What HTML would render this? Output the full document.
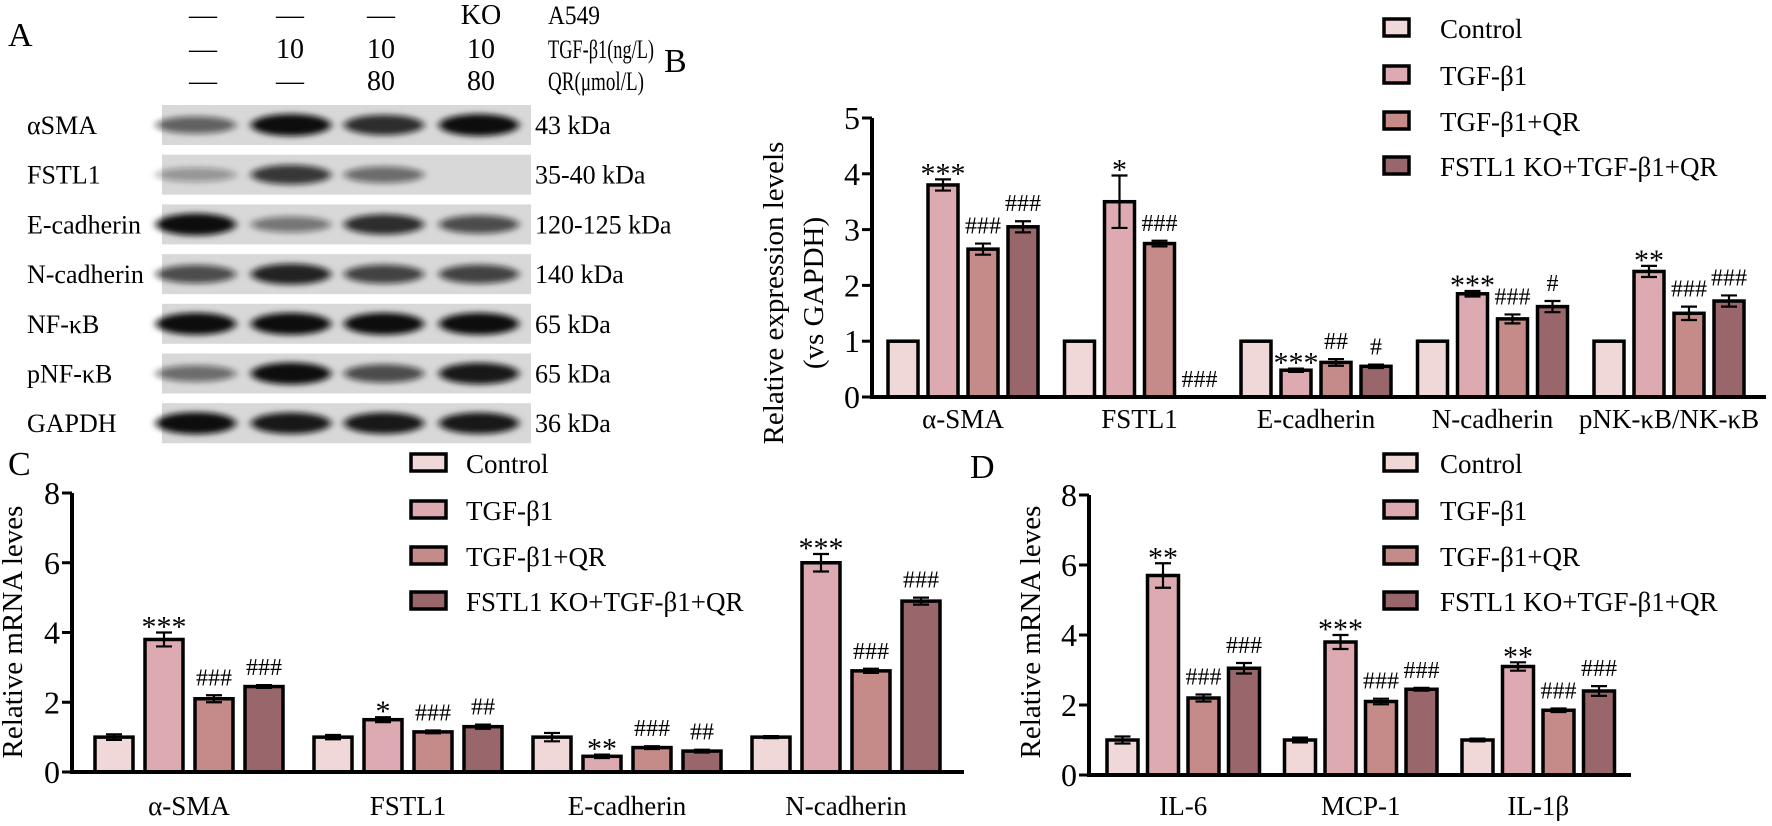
<!DOCTYPE html>
<html><head><meta charset="utf-8"><style>
html,body{margin:0;padding:0;background:#fff;}
svg{display:block;font-family:"Liberation Serif",serif;}
</style></head><body>
<svg id="fig" width="1772" height="826" viewBox="0 0 1772 826" xmlns="http://www.w3.org/2000/svg">
<defs><filter id="blur" x="-20%" y="-50%" width="140%" height="200%"><feGaussianBlur stdDeviation="4 3"/></filter></defs>
<g id="panelA"></g>
<g id="panelB"></g>
<g id="panelC"></g>
<g id="panelD"></g>
</svg>
<script>
// ---- data ----
const seriesNames = ["Control","TGF-β1","TGF-β1+QR","FSTL1 KO+TGF-β1+QR"];
const seriesColors = ["#f0d8d9","#ddaab2","#c58b88","#99666c"];

const bCategories = ["α-SMA","FSTL1","E-cadherin","N-cadherin","pNK-κB/NK-κB"];
const bControl = [1,1,1,1,1];
const bTGF = [3.8,3.5,0.48,1.85,2.25];
const bQR = [2.65,2.75,0.62,1.4,1.5];
const bKO = [3.05,0,0.55,1.62,1.72];
const bControlErr = [0,0,0,0,0];
const bTGFErr = [0.1,0.47,0.03,0.05,0.1];
const bQRErr = [0.1,0.05,0.06,0.08,0.12];
const bKOErr = [0.1,0,0.03,0.1,0.1];
const bAnnTGF = ["***","*","***","***","**"];
const bAnnQR = ["###","###","##","###","###"];
const bAnnKO = ["###","###","#","#","###"];
const bTicks = [0,1,2,3,4,5];

const cCategories = ["α-SMA","FSTL1","E-cadherin","N-cadherin"];
const cControl = [1,1,1,1];
const cTGF = [3.8,1.5,0.45,6.0];
const cQR = [2.1,1.15,0.7,2.9];
const cKO = [2.45,1.3,0.6,4.9];
const cControlErr = [0.08,0.06,0.12,0.03];
const cTGFErr = [0.2,0.07,0.05,0.25];
const cQRErr = [0.1,0.04,0.04,0.06];
const cKOErr = [0.04,0.06,0.04,0.1];
const cAnnTGF = ["***","*","**","***"];
const cAnnQR = ["###","###","###","###"];
const cAnnKO = ["###","##","##","###"];
const cTicks = [0,2,4,6,8];

const dCategories = ["IL-6","MCP-1","IL-1β"];
const dControl = [1,1,1];
const dTGF = [5.7,3.8,3.1];
const dQR = [2.2,2.1,1.85];
const dKO = [3.05,2.45,2.4];
const dControlErr = [0.1,0.07,0.04];
const dTGFErr = [0.35,0.2,0.12];
const dQRErr = [0.1,0.08,0.05];
const dKOErr = [0.15,0.04,0.14];
const dAnnTGF = ["**","***","**"];
const dAnnQR = ["###","###","###"];
const dAnnKO = ["###","###","###"];
const dTicks = [0,2,4,6,8];

const blotRows = ["αSMA","FSTL1","E-cadherin","N-cadherin","NF-κB","pNF-κB","GAPDH"];
const blotKDa = ["43 kDa","35-40 kDa","120-125 kDa","140 kDa","65 kDa","65 kDa","36 kDa"];
const blotIntensity = [
 [0.6,1,0.85,1],[0.35,0.8,0.55,0],[1,0.5,0.85,0.7],[0.7,0.9,0.75,0.75],
 [1,1,1,1],[0.55,1,0.7,0.95],[1,0.95,0.95,0.95]];
const headerRow1 = ["—","—","—","KO","A549"];
const headerRow2 = ["—","10","10","10","TGF-β1(ng/L)"];
const headerRow3 = ["—","—","80","80","QR(μmol/L)"];

const NS="http://www.w3.org/2000/svg";
function mk(parent,tag,attrs,text){const e=document.createElementNS(NS,tag);for(const k in attrs)e.setAttribute(k,attrs[k]);if(text!==undefined)e.textContent=text;parent.appendChild(e);return e;}

// ---- Panel A ----
(function(){
 const g=document.getElementById('panelA');
 let t=mk(g,'text',{x:8,y:46,'font-size':34},'A');
 
 const cols=[203,290,381,481];
 const rightW=[52,106,96];
 [[headerRow1,24],[headerRow2,58],[headerRow3,90]].forEach((r,ri)=>{
  r[0].forEach((s,i)=>{
   const attrs={x:i<4?cols[i]:548,y:r[1],'font-size':i<4?28:26,'text-anchor':i<4?'middle':'start'};
   if(i===4){attrs.textLength=rightW[ri];attrs.lengthAdjust='spacingAndGlyphs';}
   const e=mk(g,'text',attrs,s);
   
  });
 });
 const lanes=[196,291,384,479];
 blotRows.forEach((name,ri)=>{
  const y0=105+ri*49.7, h=40;
  const bg=mk(g,'rect',{x:162,y:y0,width:369,height:h,fill:'#d8d8d8'});
  
  blotIntensity[ri].forEach((v,li)=>{
   if(v<=0)return;
   const b=mk(g,'ellipse',{cx:lanes[li],cy:y0+h/2,rx:40,ry:5+v*6,fill:'#111','fill-opacity':v,filter:'url(#blur)'});
   
  });
  const l=mk(g,'text',{x:27,y:y0+h/2+9,'font-size':26},name);
  
  const k=mk(g,'text',{x:535,y:y0+h/2+9,'font-size':26},blotKDa[ri]);
  
 });
})();

// ---- generic bar chart ----
function chart(opts){
 const g=document.getElementById(opts.id);
 const yS=v=>opts.y0-(v/opts.ymax)*(opts.y0-opts.ytop);
 let pl=mk(g,'text',{x:opts.label[0],y:opts.label[1],'font-size':34},opts.letter);
 
 const series=opts.series, errs=opts.errs, anns=opts.anns;
 opts.cats.forEach((c,ci)=>{
  const gx=opts.gx0+ci*opts.gpitch;
  series.forEach((arr,si)=>{
   const v=arr[ci], x=gx+si*opts.bpitch, y=yS(v);
   const r=mk(g,'rect',{x:x,y:y,width:opts.bw,height:Math.max(0,opts.y0-y),fill:seriesColors[si],stroke:'#000','stroke-width':3.5});
   
   const e=errs[si][ci];
   let top=y;
   if(e>0){
    const cx=x+opts.bw/2, yt=yS(v+e), yb=yS(v-e);
    const el=mk(g,'path',{d:`M${cx} ${yb}V${yt}M${cx-8} ${yt}H${cx+8}M${cx-8} ${yb}H${cx+8}`,stroke:'#000','stroke-width':2.2,fill:'none'});
    
    top=yt;
   }
   if(si>0){
    const a=anns[si-1][ci];
    const isStar=a.indexOf('*')>=0;
    const at=mk(g,'text',{x:x+opts.bw/2,y:isStar?top+4:top-10,'font-size':isStar?30:24,'text-anchor':'middle'},a);
    
   }
  });
  const cl=mk(g,'text',{x:gx+(series.length*opts.bpitch-(opts.bpitch-opts.bw))/2,y:opts.catY,'font-size':27,'text-anchor':'middle'},c);
  
 });
 const ax=mk(g,'path',{d:`M${opts.ax} ${opts.ytop}V${opts.y0}H${opts.xend}`,stroke:'#000','stroke-width':4,fill:'none'});
 
 opts.ticks.forEach(tv=>{
  const y=yS(tv);
  const tk=mk(g,'line',{x1:opts.ax-10,x2:opts.ax,y1:y,y2:y,stroke:'#000','stroke-width':3});
  
  const tl=mk(g,'text',{x:opts.ax-12,y:y+11,'font-size':32,'text-anchor':'end'},String(tv));
  
 });
 opts.ylabel.forEach((s,i)=>{
  const x=opts.ylx+i*40;
  const yl=mk(g,'text',{x:x,y:opts.yly,'font-size':29,'text-anchor':'middle',transform:`rotate(-90 ${x} ${opts.yly})`},s);
  
 });
 seriesNames.forEach((n,i)=>{
  const y=opts.legY[i];
  const lb=mk(g,'rect',{x:opts.legX,y:y-9,width:opts.legW,height:17,fill:seriesColors[i],stroke:'#000','stroke-width':3.5});
  
  const lt=mk(g,'text',{x:opts.legTX,y:y+10,'font-size':27},n);
  
 });
}

chart({id:'panelB',letter:'B',label:[664,72],cats:bCategories,series:[bControl,bTGF,bQR,bKO],
 errs:[bControlErr,bTGFErr,bQRErr,bKOErr],anns:[bAnnTGF,bAnnQR,bAnnKO],
 ax:872,y0:397,ytop:118,ymax:5,xend:1766,gx0:888,gpitch:176.5,bpitch:40,bw:30,catY:428,ticks:bTicks,
 ylabel:["Relative expression levels","(vs GAPDH)"],ylx:783,yly:293,
 legX:1384,legW:25,legTX:1440,legY:[28,75,121,166]});
chart({id:'panelC',letter:'C',label:[8,475],cats:cCategories,series:[cControl,cTGF,cQR,cKO],
 errs:[cControlErr,cTGFErr,cQRErr,cKOErr],anns:[cAnnTGF,cAnnQR,cAnnKO],
 ax:72,y0:772,ytop:493,ymax:8,xend:964,gx0:95,gpitch:219,bpitch:50,bw:38,catY:815,ticks:cTicks,
 ylabel:["Relative mRNA leves"],ylx:22,yly:632,
 legX:411,legW:35,legTX:466,legY:[463,510,556,601]});
chart({id:'panelD',letter:'D',label:[970,478],cats:dCategories,series:[dControl,dTGF,dQR,dKO],
 errs:[dControlErr,dTGFErr,dQRErr,dKOErr],anns:[dAnnTGF,dAnnQR,dAnnKO],
 ax:1089,y0:775,ytop:495,ymax:8,xend:1631,gx0:1107,gpitch:177.5,bpitch:40.5,bw:31,catY:815,ticks:dTicks,
 ylabel:["Relative mRNA leves"],ylx:1040,yly:632,
 legX:1384,legW:33,legTX:1440,legY:[463,510,556,601]});
</script>
</body></html>
